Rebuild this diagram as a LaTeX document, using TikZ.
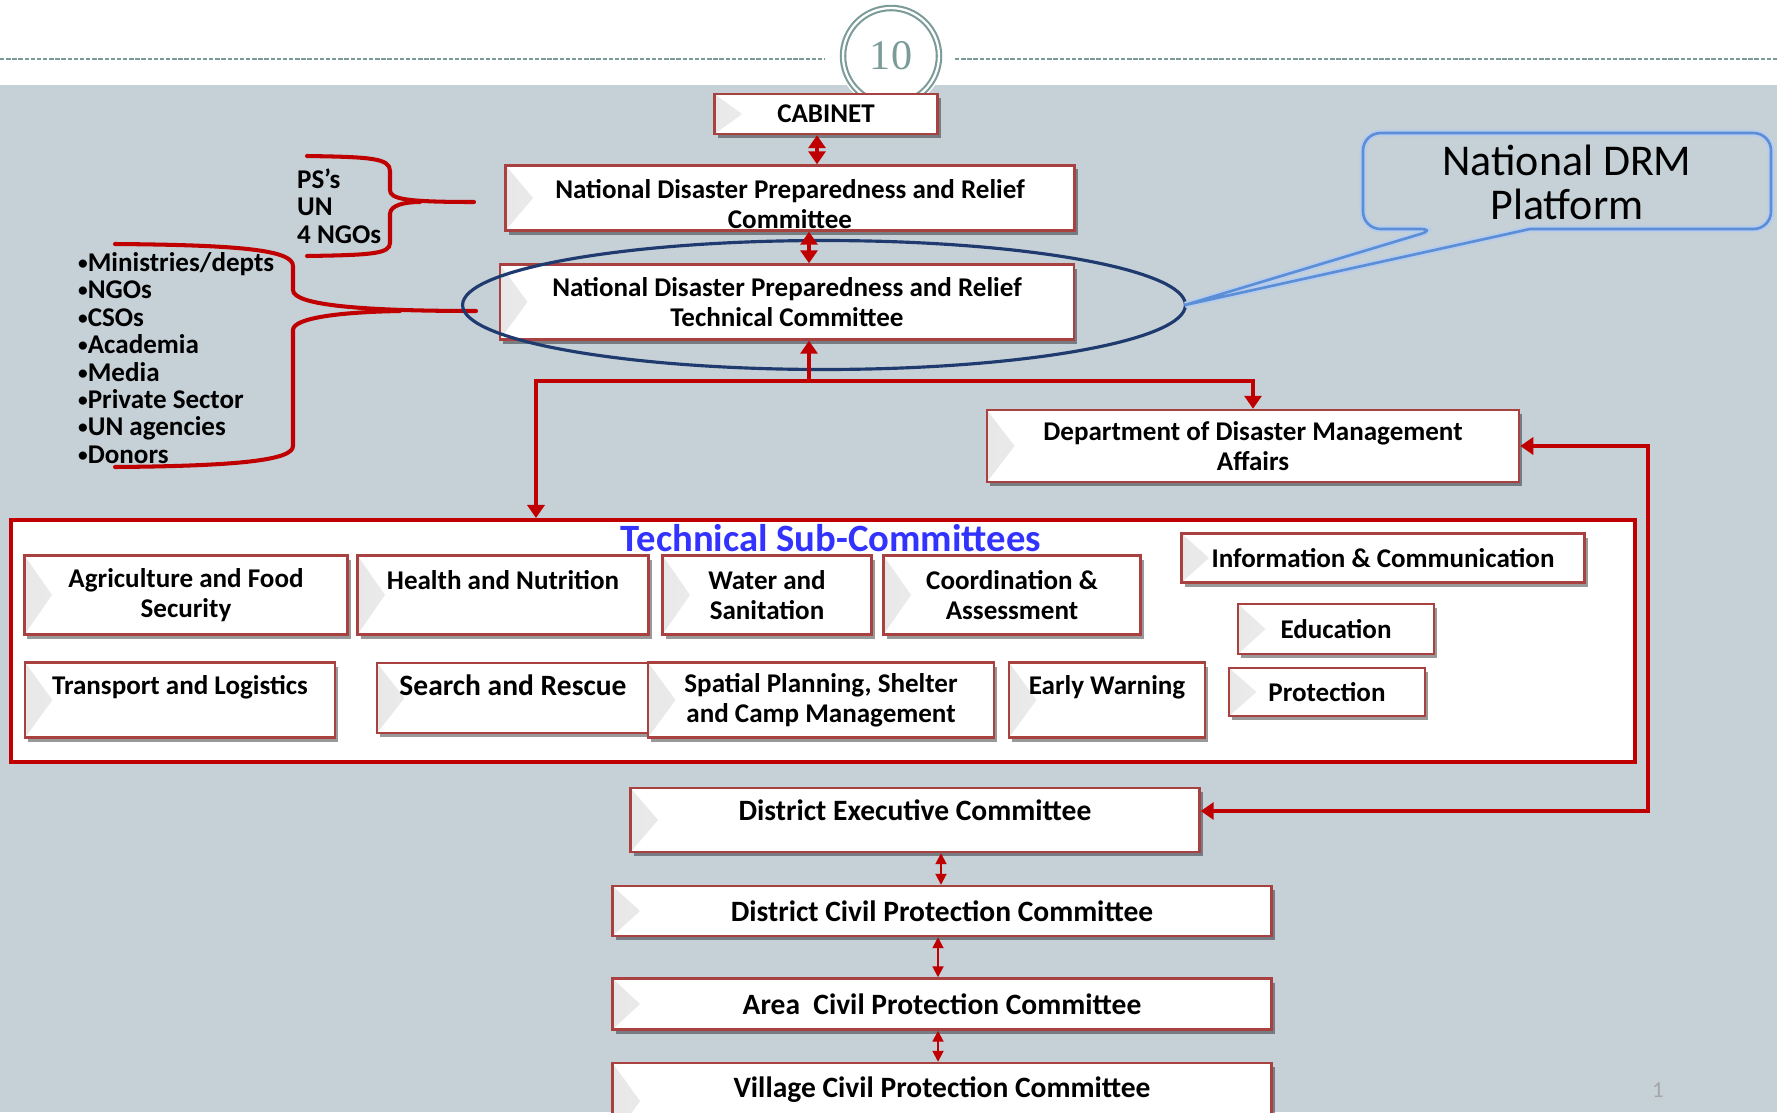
\documentclass[tikz,border=0pt]{standalone}
\usepackage{fontspec}
\setmainfont{Carlito}
\newfontfamily\numfont{Liberation Serif}
\usetikzlibrary{arrows.meta,calc,shadows}

\definecolor{slidegrey}{HTML}{C5D0D7}
\definecolor{tealgrey}{HTML}{7B9B99}
\definecolor{boxred}{HTML}{A8413F}
\definecolor{linkred}{HTML}{C00000}
\definecolor{ovalblue}{HTML}{1F3A6E}
\definecolor{calloutblue}{HTML}{5B8ED6}
\definecolor{titleblue}{HTML}{3333FF}

\def\pxu{0.02cm}
\newcommand\boxfont{\fontsize{15.4}{16.9}\selectfont\bfseries}
\newcommand\bigboxfont{\fontsize{16.8}{18}\selectfont\bfseries}
\newcommand\listfont{\fontsize{15.4}{15.6}\selectfont\bfseries}
\newcommand\dotb{{\fontsize{11}{11}\selectfont\raisebox{0.1em}{•}}}

\tikzset{
  cbox/.style 2 args={draw=boxred, line width=1.4pt, fill=white,
    minimum width=#1*\pxu, minimum height=#2*\pxu, inner sep=1pt,
    align=center, font=\boxfont,
    drop shadow={shadow xshift=0.06cm, shadow yshift=-0.08cm, fill=black, opacity=0.4},
    path picture={\shade[left color=black!9, right color=white]
      (path picture bounding box.north west) -- (path picture bounding box.south west)
      -- ($(path picture bounding box.west)+(0.55cm,0)$) -- cycle;}},
  bigarrow/.style={draw=linkred, line width=2.2pt,
    {Triangle[length=0.26cm,width=0.34cm]}-{Triangle[length=0.26cm,width=0.34cm]}},
  toarrow/.style={draw=linkred, line width=2.2pt, -{Triangle[length=0.26cm,width=0.34cm]}},
  smallarrow/.style={draw=linkred, line width=1.1pt,
    {Triangle[length=0.22cm,width=0.22cm]}-{Triangle[length=0.22cm,width=0.22cm]}},
  redbrace/.style={draw=linkred, line width=2.3pt, line cap=round},
}

\begin{document}
\begin{tikzpicture}[x=\pxu, y=-\pxu]
	%%%%% START %%%%%
	\useasboundingbox (0,0) rectangle (1777,1112);
	\clip (0,0) rectangle (1777,1112);
	
	\fill[white] (0,0) rectangle (1777,85);
	\fill[slidegrey] (0,85) rectangle (1777,1112);
	\draw[tealgrey, line width=1.1pt, dash pattern=on 2.5pt off 1pt] (0,59) -- (825,59);
	\draw[tealgrey, line width=1.1pt, dash pattern=on 2.5pt off 1pt] (955,59) -- (1777,59);
	\fill[white] (891,54) circle (1.08cm);
	\node[circle, draw=tealgrey, double=white, double distance=1.3pt, line width=1.2pt,
		minimum size=1.92cm, fill=white, text=tealgrey,
		font=\numfont\fontsize{24}{24}\selectfont] (pageno) at (891,56) {10};
	
	% who sits on the committees
	\node[anchor=west, align=left, font=\listfont] (members) at (291,206) {PS’s\\UN\\4 NGOs};
	\node[anchor=west, align=left, font=\listfont] (stakeholders) at (72,358)
		{\dotb Ministries/depts\\\dotb NGOs\\\dotb CSOs\\\dotb Academia\\\dotb Media\\\dotb Private Sector\\\dotb UN agencies\\\dotb Donors};
	
	\draw[redbrace] (307,156) .. controls (370,157) and (390,158) .. (390,171) -- (390,190)
		.. controls (390,199) and (405,202) .. (474,202);
	\draw[redbrace] (307,256) .. controls (370,255) and (390,254) .. (390,243) -- (390,214)
		.. controls (390,205) and (405,202) .. (420,202);
	\draw[redbrace] (115,244) .. controls (240,245) and (293,250) .. (293,266) -- (293,290)
		.. controls (293,305) and (360,311) .. (476,311);
	\draw[redbrace] (115,467) .. controls (240,466) and (293,460) .. (293,446) -- (293,330)
		.. controls (293,318) and (340,312) .. (400,311);
	
	% national level
	\node[cbox={223}{40}] (cab) at (826,114) {CABINET};
	\node[cbox={569}{62}] (ndpr) at (790,198)
		{\rule{0pt}{18pt}National Disaster Preparedness and Relief\\Committee};
	\node[cbox={574}{75}] (ndtc) at (787,302) {National Disaster Preparedness and Relief\\Technical Committee};
	\node[cbox={532}{72}] (dodma) at (1253,446) {Department of Disaster Management\\Affairs};
	
	\draw[ovalblue, line width=1.8pt] (824,305) ellipse [x radius=7.23cm, y radius=1.29cm];
	
	\draw[bigarrow] ([xshift=-0.18cm]cab.south) -- ([xshift=-0.18cm]cab.south |- ndpr.north);
	\draw[bigarrow] ([xshift=0.38cm]ndpr.south) -- ([xshift=0.38cm]ndpr.south |- ndtc.north);
	
	\draw[draw=calloutblue, line width=1.5pt, line join=round,
		preaction={draw=calloutblue!45, line width=3.6pt}]
		(1185,305) -- (1530,229) [rounded corners=0.35cm] -- (1771,229) -- (1771,133)
		-- (1363,133) -- (1363,229) -- (1437,229) [sharp corners] -- cycle;
	\node[align=center, font=\fontsize{25}{25}\selectfont] (drm) at (1567,182) {National DRM\\Platform};
	
	% technical sub-committees
	\node[draw=linkred, line width=2.3pt, fill=white, minimum width=1624*\pxu,
		minimum height=242*\pxu] (tsc) at (823,641) {};
	\node[text=titleblue, font=\bfseries\fontsize{22}{22}\selectfont] (tsctitle) at (831,538) {Technical Sub-Committees};
	
	\node[cbox={323}{79}] (agri) at (186,595) {Agriculture and Food\\Security};
	\node[cbox={291}{79}] (health) at (503,595) {Health and Nutrition\\\mbox{}};
	\node[cbox={209}{79}] (wash) at (767,595) {Water and\\Sanitation};
	\node[cbox={257}{79}] (coord) at (1012,595) {Coordination \&\\Assessment};
	\node[cbox={403}{49}] (info) at (1383,558) {Information \& Communication};
	\node[cbox={196}{50}] (edu) at (1336,629) {Education};
	\node[cbox={196}{48}] (prot) at (1327,692) {Protection};
	\node[cbox={310}{75}] (trans) at (180,700) {Transport and Logistics\\\mbox{}};
	\node[cbox={272}{70}, font=\bigboxfont, text height=10pt, text depth=12.8pt] (sar) at (513,698) {Search and Rescue};
	\node[cbox={346}{75}] (shelter) at (821,700) {Spatial Planning, Shelter\\and Camp Management};
	\node[cbox={196}{75}] (ews) at (1107,700) {Early Warning\\\mbox{}};
	
	\coordinate (jn) at (809,381);
	\draw[toarrow] (jn) -- (jn |- ndtc.south);
	\draw[toarrow] (jn) -| (dodma.north);
	\draw[toarrow] (jn) -| ($(tsc.north west)+(527,0)$);
	
	% district level and below
	\node[cbox={569}{64}, font=\bigboxfont, text height=12pt, text depth=11.4pt] (dec) at (915,820) {District Executive Committee};
	\node[cbox={659}{50}, font=\bigboxfont] (dcpc) at (942,911) {District Civil Protection Committee};
	\node[cbox={659}{51}, font=\bigboxfont] (acpc) at (942,1004) {Area\ \ Civil Protection Committee};
	\node[cbox={659}{76}, font=\bigboxfont, text height=10pt, text depth=14pt] (vcpc) at (942,1101) {Village Civil Protection Committee};
	
	\draw[bigarrow] (dodma.east) -- ++(128,0) |- ([yshift=0.18cm]dec.east);
	\draw[smallarrow] ([xshift=0.52cm]dec.south) -- ([xshift=0.52cm]dec.south |- dcpc.north);
	\draw[smallarrow] ([xshift=-0.08cm]dcpc.south) -- ([xshift=-0.08cm]acpc.north);
	\draw[smallarrow] ([xshift=-0.08cm]acpc.south) -- ([xshift=-0.08cm]vcpc.north);
	
	\node[text=gray!70, font=\fontsize{13}{13}\selectfont] (slideno) at (1658,1090) {1};
	%%%%% END %%%%%
\end{tikzpicture}
\end{document}
